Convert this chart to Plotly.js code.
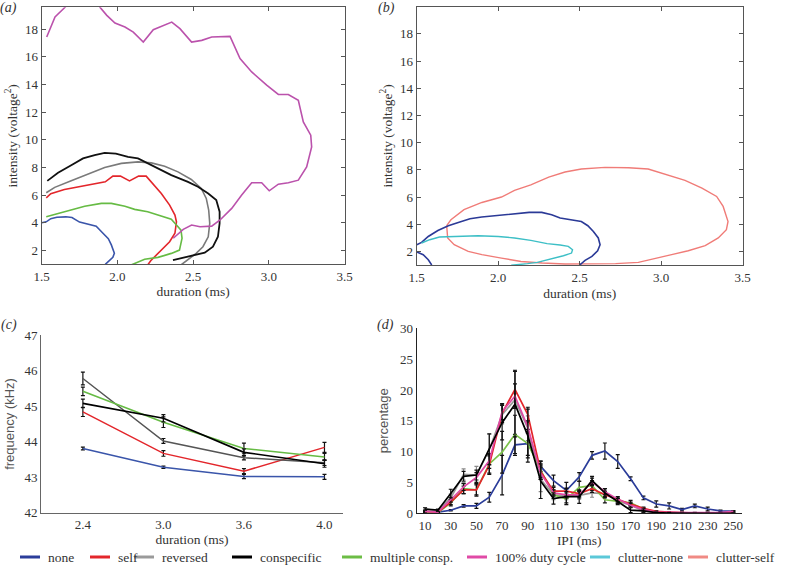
<!DOCTYPE html>
<html><head><meta charset="utf-8">
<script src="https://cdn.plot.ly/plotly-3.0.1.min.js"></script>
<style>html,body{margin:0;padding:0;background:#fff}#chart{width:786px;height:572px}</style>
</head><body><div id="chart"></div>
<script>
// ---------- panel (a): contours, intensity vs duration ----------
const aNoneX = [1.5,1.53,1.56,1.6,1.66,1.7,1.75,1.8,1.86,1.9,1.94,1.96,1.98,1.97,1.92];
const aNoneY = [4.0,4.07,4.3,4.4,4.43,4.38,4.05,3.9,3.75,3.3,2.85,2.4,1.8,1.5,1.0];
const aSelfX = [1.53,1.56,1.65,1.74,1.83,1.92,1.97,2.02,2.08,2.14,2.19,2.235,2.29,2.345,2.38,2.39,2.38,2.345,2.3,2.26,2.22,2.2];
const aSelfY = [5.8,6.1,6.4,6.6,6.77,6.96,7.37,7.37,7.03,7.37,7.37,6.84,6.12,5.28,4.56,4.07,3.24,2.63,2.15,1.67,1.26,0.95];
const aRevX = [1.53,1.586,1.695,1.806,1.916,2.026,2.136,2.224,2.312,2.4,2.488,2.554,2.587,2.603,2.61,2.6,2.565,2.52,2.466,2.42];
const aRevY = [6.17,6.56,7.03,7.49,8.0,8.29,8.4,8.33,8.09,7.68,7.13,6.48,5.76,4.92,3.96,2.99,2.27,1.79,1.31,0.95];
const aConX = [1.537,1.608,1.695,1.773,1.85,1.916,1.99,2.07,2.136,2.2,2.268,2.356,2.466,2.532,2.6,2.653,2.675,2.675,2.664,2.631,2.577,2.51,2.445,2.367];
const aConY = [7.03,7.61,8.16,8.65,8.89,9.05,9.0,8.76,8.65,8.29,7.93,7.44,6.96,6.6,6.12,5.64,4.8,3.96,2.99,2.27,1.84,1.67,1.5,1.31];
const aMulX = [1.53,1.65,1.784,1.894,1.96,2.05,2.114,2.2,2.29,2.356,2.39,2.42,2.427,2.41,2.356,2.268,2.18,2.115,2.09];
const aMulY = [4.43,4.8,5.2,5.4,5.4,5.2,4.97,4.8,4.48,4.25,3.84,3.47,2.88,2.03,1.79,1.5,1.36,1.07,0.95];
const aDutyX = [1.533,1.588,1.654,1.7,1.86,1.885,1.93,1.984,2.05,2.105,2.171,2.237,2.359,2.413,2.49,2.557,2.623,2.689,2.744,2.81,2.887,2.986,3.063,3.129,3.195,3.228,3.277,3.283,3.25,3.195,3.129,3.063,3.003,2.953,2.887,2.821,2.755,2.678,2.623,2.546,2.49,2.435,2.369];
const aDutyY = [17.42,18.87,19.57,20.2,20.2,19.57,18.99,18.43,18.14,17.78,17.06,17.95,18.5,18.03,17.06,17.18,17.42,17.47,17.47,15.86,14.9,13.94,13.27,13.27,12.85,11.29,10.33,9.48,8.04,7.08,6.89,6.79,6.31,6.89,6.89,6.0,5.04,4.2,3.76,3.71,3.84,3.53,2.88];

// ---------- panel (b) ----------
const bNoneX = [1.592,1.571,1.54,1.45,1.53,1.571,1.63,1.694,1.755,1.827,1.899,1.98,2.06,2.14,2.19,2.267,2.328,2.38,2.45,2.51,2.55,2.584,2.614,2.625,2.61,2.575,2.533,2.5];
const bNoneY = [1.0,1.39,1.76,2.2,2.66,3.1,3.54,3.89,4.13,4.4,4.53,4.62,4.7,4.82,4.87,4.87,4.7,4.46,4.33,4.2,3.89,3.47,2.99,2.49,2.05,1.63,1.34,1.0];
const bCNoneX = [1.53,1.58,1.64,1.73,1.878,2.0,2.1,2.2,2.3,2.38,2.43,2.456,2.45,2.4,2.34,2.3,2.24,2.18,2.117,2.08];
const bCNoneY = [2.62,2.86,3.06,3.1,3.15,3.1,2.99,2.81,2.57,2.47,2.37,2.12,1.88,1.68,1.51,1.34,1.19,1.1,1.02,0.98];
const bCSelfX = [1.684,1.71,1.79,1.9,2.02,2.1,2.2,2.31,2.41,2.51,2.655,2.8,2.92,3.04,3.146,3.25,3.34,3.38,3.41,3.4,3.35,3.27,3.166,3.064,2.96,2.86,2.72,2.55,2.41,2.27,2.14,2.02,1.9,1.816,1.73,1.69,1.684,1.684];
const bCSelfY = [3.89,4.33,5.07,5.6,6.0,6.49,6.9,7.47,7.84,8.06,8.18,8.15,8.06,7.64,7.22,6.66,6.04,5.31,4.2,3.6,2.99,2.42,2.05,1.76,1.46,1.19,1.1,1.07,1.07,1.15,1.26,1.51,1.76,2.0,2.49,2.99,3.6,3.89];

// ---------- panel (c): frequency vs duration ----------
const cDur = ['2.4','3.0','3.6','4.0'];
const cNone = [43.81,43.28,43.02,43.01];
const cNoneErr = [0.04,0.03,0.06,0.07];
const cSelf = [44.84,43.67,43.17,43.84];
const cSelfErr = [0.13,0.08,0.07,0.14];
const cRev = [45.78,44.02,43.55,43.41];
const cRevErr = [0.18,0.07,0.06,0.08];
const cCon = [45.08,44.66,43.7,43.38];
const cConErr = [0.12,0.1,0.1,0.1];
const cMul = [45.42,44.55,43.81,43.57];
const cMulErr = [0.12,0.15,0.15,0.1];

// ---------- panel (d): IPI distribution ----------
const dIPI = [10,20,30,40,50,60,70,80,90,100,110,120,130,140,150,160,170,180,190,200,210,220,230,240,250];
const dNone = [0.3,0.2,0.5,1.2,1.2,2.6,6.2,11.1,11.3,7.6,5.3,3.7,5.9,9.4,10.1,8.4,5.6,2.5,1.5,1.2,0.6,1.2,0.7,0.4,0.35];
const dNoneErr = [0.1,0.1,0.1,0.2,0.4,0.8,3.2,1.7,1.9,0.8,0.9,1.3,0.7,0.6,1.3,1.1,0.3,0.3,0.5,0.5,0.2,0.3,0.3,0.1,0.1];
const dSelf = [0.3,0.2,1.8,3.8,3.8,7.8,16.2,20.1,16.0,6.8,3.6,3.6,3.2,4.0,3.0,2.2,1.5,0.8,0.3,0.2,0.1,0.05,0.05,0.05,0.05];
const dSelfErr = [0.1,0.1,0.4,0.6,0.8,1.5,1.5,3.1,1.2,1.0,0.6,0.5,0.5,0.6,0.5,0.4,0.3,0.2,0.1,0.05,0,0,0,0,0];
const dRev = [0.7,0.4,2.5,6.3,6.2,10.3,16.0,18.4,13.8,5.5,3.0,2.8,2.9,3.3,3.2,2.0,1.3,0.4,0.1,0.1,0.05,0.05,0.05,0,0];
const dRevErr = [0.2,0.2,0.6,0.9,1.4,2.5,1.5,1.0,2.0,2.0,0.8,0.6,0.6,0.7,0.5,0.4,0.3,0.2,0.1,0.05,0,0,0,0,0];
const dCon = [0.7,0.5,3.2,6.0,6.2,10.4,14.7,17.7,12.6,5.2,2.4,2.7,2.7,5.3,3.3,1.9,0.5,0.4,0.1,0.05,0,0,0,0,0];
const dConErr = [0.2,0.2,0.7,0.8,0.8,2.5,2.8,5.3,4.3,2.8,0.9,1.3,1.1,0.7,0.7,0.5,0.4,0.3,0.1,0.05,0,0,0,0,0];
const dMul = [0.2,0.1,1.7,4.0,3.8,8.0,9.9,12.8,11.3,7.0,3.0,2.3,4.2,4.5,2.2,2.0,1.7,0.7,0.2,0.1,0.05,0,0,0,0];
const dMulErr = [0.1,0.1,0.5,0.8,1.0,1.5,3.4,3.1,2.3,1.5,0.6,0.6,1.0,0.8,0.5,0.4,0.4,0.2,0.1,0.05,0,0,0,0,0];
const dDuty = [0.3,0.2,2.2,4.3,5.8,8.5,16.5,19.0,14.0,6.5,3.3,3.0,3.0,5.1,3.5,2.3,1.3,0.6,0.2,0.1,0.1,0.1,0.1,0.1,0.3];
const dDutyErr = [0.1,0.1,0.4,0.6,0.8,1.2,1.3,2.0,1.0,1.0,0.5,0.5,0.5,0.6,0.5,0.4,0.3,0.2,0.1,0.05,0.05,0.05,0.05,0.05,0.1];

// ---------- legend ----------
const legendNames = ['none','self','reversed','conspecific','multiple consp.','100% duty cycle','clutter-none','clutter-self'];
const legendColors = ['#2b3d9a','#e3262b','#9a9a9a','#000000','#6cbd45','#e04aa6','#5bc8d8','#f08a84'];
const panelLabels = ['(a)','(b)','(c)','(d)'];

const W = 786, H = 572;
const SERIF = "Liberation Serif, Times New Roman, serif";
const SANS = "Liberation Sans, Arial, sans-serif";

function ln(x, y, color, width, xa, ya, name) {
  return {x: x, y: y, type: 'scatter', mode: 'lines', name: name, showlegend: false,
    line: {color: color, width: width}, xaxis: xa, yaxis: ya, hoverinfo: 'skip'};
}
function eb(x, y, err, color, width, xa, ya, name, ecol) {
  const t = ln(x, y, color, width, xa, ya, name);
  t.error_y = {type: 'data', array: err, visible: true, color: ecol || '#111', thickness: 1.2, width: 2};
  return t;
}

const traces = [
  ln(aNoneX, aNoneY, '#3a55aa', 1.6, 'x', 'y', 'none'),
  ln(aRevX, aRevY, '#7a7a7a', 1.6, 'x', 'y', 'reversed'),
  ln(aSelfX, aSelfY, '#e3262b', 1.6, 'x', 'y', 'self'),
  ln(aConX, aConY, '#111111', 1.8, 'x', 'y', 'conspecific'),
  ln(aMulX, aMulY, '#66bb44', 1.6, 'x', 'y', 'multiple consp.'),
  ln(aDutyX, aDutyY, '#bb52ac', 1.6, 'x', 'y', '100% duty cycle'),

  ln(bCSelfX, bCSelfY, '#f07c78', 1.4, 'x2', 'y2', 'clutter-self'),
  ln(bNoneX, bNoneY, '#2b3a97', 1.6, 'x2', 'y2', 'none'),
  ln(bCNoneX, bCNoneY, '#3dbfc6', 1.4, 'x2', 'y2', 'clutter-none'),

  eb(cDur, cNone, cNoneErr, '#3a55aa', 1.5, 'x3', 'y3', 'none'),
  eb(cDur, cSelf, cSelfErr, '#e3262b', 1.5, 'x3', 'y3', 'self'),
  eb(cDur, cRev, cRevErr, '#555555', 1.5, 'x3', 'y3', 'reversed'),
  eb(cDur, cMul, cMulErr, '#66bb44', 1.6, 'x3', 'y3', 'multiple consp.'),
  eb(cDur, cCon, cConErr, '#000000', 1.6, 'x3', 'y3', 'conspecific'),

  eb(dIPI, dNone, dNoneErr, '#2b3d9a', 1.7, 'x4', 'y4', 'none'),
  eb(dIPI, dRev, dRevErr, '#999999', 1.7, 'x4', 'y4', 'reversed', '#888888'),
  eb(dIPI, dMul, dMulErr, '#7cc24a', 1.7, 'x4', 'y4', 'multiple consp.'),
  eb(dIPI, dSelf, dSelfErr, '#e3262b', 1.7, 'x4', 'y4', 'self'),
  eb(dIPI, dDuty, dDutyErr, '#e04aa6', 1.7, 'x4', 'y4', '100% duty cycle'),
  eb(dIPI, dCon, dConErr, '#000000', 1.7, 'x4', 'y4', 'conspecific')
];

const px = v => v / W, py = v => 1 - v / H;
const tickFont = {family: SERIF, size: 13, color: '#333'};
const titleFont = {family: SERIF, size: 13.5, color: '#333'};

function boxAxis(dom, range, extra) {
  return Object.assign({domain: dom, range: range, showline: true, linecolor: '#555', linewidth: 1,
    mirror: 'ticks', ticks: 'inside', ticklen: 4, tickcolor: '#555', showgrid: false, zeroline: false,
    tickfont: tickFont, fixedrange: true}, extra);
}

const layout = {
  width: W, height: H, margin: {l: 0, r: 0, t: 0, b: 0},
  paper_bgcolor: '#fff', plot_bgcolor: '#fff', showlegend: false,
  font: {family: SERIF, color: '#333'},
  xaxis: boxAxis([px(41.7), px(344.5)], [1.5, 3.5], {anchor: 'y', dtick: 0.5, tick0: 1.5, tickformat: '.1f',
    title: {text: 'duration (ms)', font: titleFont, standoff: 3}}),
  yaxis: boxAxis([py(264.3), py(7.3)], [1, 19.57], {anchor: 'x', tickvals: [2,4,6,8,10,12,14,16,18],
    title: {text: 'intensity (voltage<sup>2</sup>)', font: titleFont, standoff: 4}}),
  xaxis2: boxAxis([px(416.7), px(742.7)], [1.5, 3.5], {anchor: 'y2', dtick: 0.5, tick0: 1.5, tickformat: '.1f',
    title: {text: 'duration (ms)', font: titleFont, standoff: 4}}),
  yaxis2: boxAxis([py(265), py(6.7)], [1, 20], {anchor: 'x2', tickvals: [2,4,6,8,10,12,14,16,18],
    title: {text: 'intensity (voltage<sup>2</sup>)', font: titleFont, standoff: 4}}),
  xaxis3: {domain: [px(41), px(343)], anchor: 'y3', type: 'category', range: [-0.52, 3.23],
    showline: true, linecolor: '#666', linewidth: 1, ticks: '', showgrid: false, zeroline: false,
    tickfont: tickFont, fixedrange: true, title: {text: 'duration (ms)', font: titleFont, standoff: 3}},
  yaxis3: {domain: [py(512.7), py(335.2)], anchor: 'x3', range: [42, 47], dtick: 1,
    showline: true, linecolor: '#666', linewidth: 1, ticks: '', showgrid: false, zeroline: false,
    tickfont: tickFont, fixedrange: true, title: {text: 'frequency (kHz)', font: {family: SANS, size: 13, color: '#555'}, standoff: 6}},
  xaxis4: {domain: [px(416.7), px(741.7)], anchor: 'y4', range: [3.5, 256.5],
    tickvals: [10,30,50,70,90,110,130,150,170,190,210,230,250],
    showline: true, linecolor: '#222', linewidth: 1, ticks: '', showgrid: false, zeroline: false,
    tickfont: tickFont, fixedrange: true, title: {text: 'IPI (ms)', font: titleFont, standoff: 3}},
  yaxis4: {domain: [py(513.3), py(328.3)], anchor: 'x4', range: [0, 30], dtick: 5,
    showline: true, linecolor: '#222', linewidth: 1, ticks: '', showgrid: false, zeroline: false,
    tickfont: tickFont, fixedrange: true, title: {text: 'percentage', font: {family: SANS, size: 13, color: '#555'}, standoff: 8}},
  shapes: [],
  annotations: []
};

// panel labels
const labelPos = [[8, 8], [386, 8], [9, 325], [385, 325]];
panelLabels.forEach((t, i) => {
  layout.annotations.push({text: t, x: px(labelPos[i][0]), y: py(labelPos[i][1]), xref: 'paper', yref: 'paper',
    xanchor: 'center', yanchor: 'middle', showarrow: false,
    font: {family: SERIF, size: 14, color: '#333', style: 'italic'}});
});

// legend (drawn row at bottom)
const legLineX = [20, 90, 134, 232, 342, 467, 590, 688];
const legY = 557;
legendNames.forEach((nm, i) => {
  layout.shapes.push({type: 'line', xref: 'paper', yref: 'paper',
    x0: px(legLineX[i]), x1: px(legLineX[i] + 20), y0: py(legY), y1: py(legY),
    line: {color: legendColors[i], width: 3}});
  layout.annotations.push({text: nm, xref: 'paper', yref: 'paper', x: px(legLineX[i] + 26), y: py(legY),
    xanchor: 'left', yanchor: 'middle', showarrow: false, font: {family: SERIF, size: 13.5, color: '#333'}});
});

Plotly.newPlot('chart', traces, layout, {staticPlot: true, displayModeBar: false});
</script></body></html>
